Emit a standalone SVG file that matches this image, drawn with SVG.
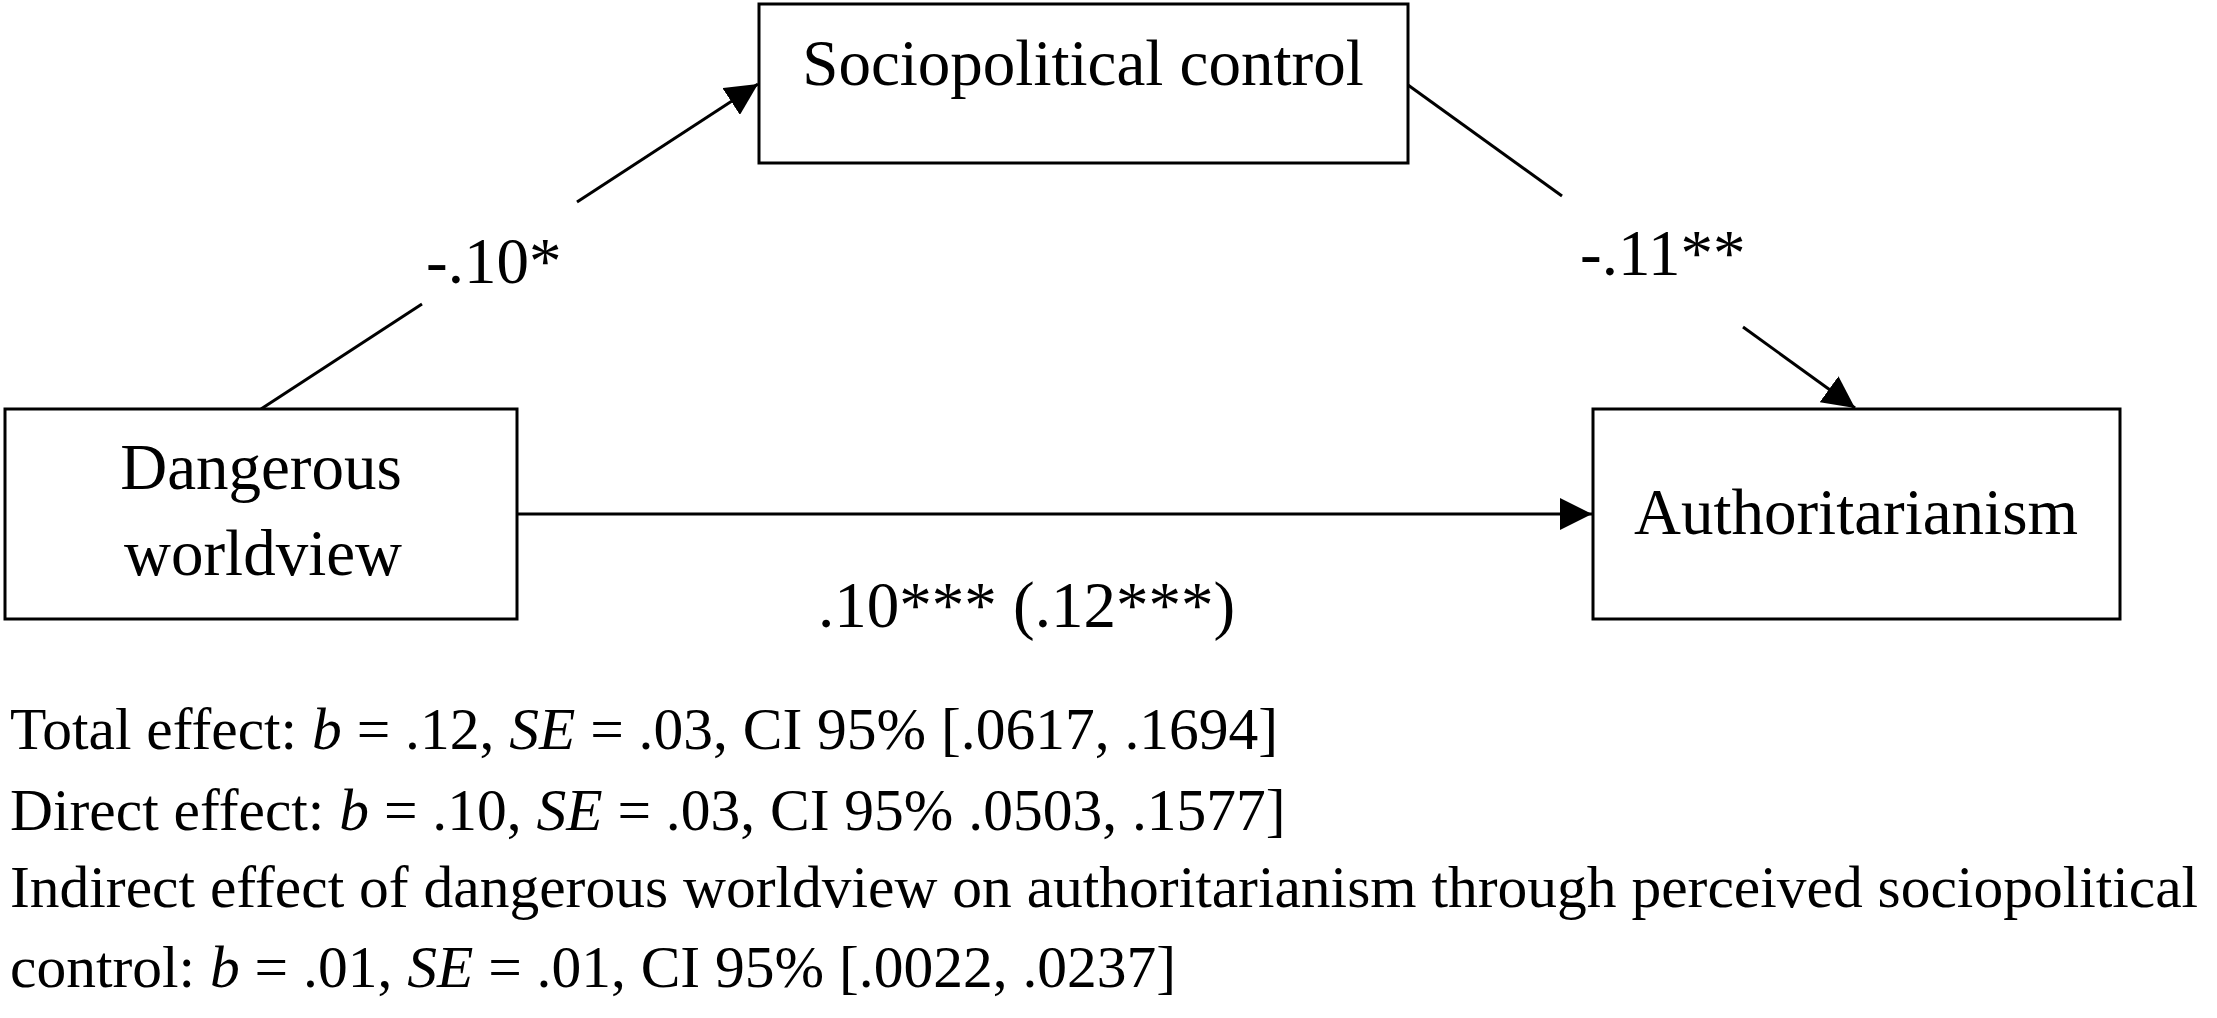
<svg xmlns="http://www.w3.org/2000/svg" width="2217" height="1018" viewBox="0 0 2217 1018">
<style>
  .box { fill: #ffffff; stroke: #000000; stroke-width: 3; }
  .lbl { font-family: "Liberation Serif", "Times New Roman", serif; font-size: 65px; fill: #000000; }
  .cap { font-family: "Liberation Serif", "Times New Roman", serif; font-size: 59.5px; fill: #000000; }
  .it { font-style: italic; }
  .edge { stroke: #000000; stroke-width: 3; fill: none; }
</style>
<defs>
  <marker id="arrow" markerUnits="userSpaceOnUse" markerWidth="32" markerHeight="32" viewBox="0 0 32 32" refX="32" refY="16" orient="auto">
    <path d="M0,0 L32,16 L0,32 Z" fill="#000000"/>
  </marker>
</defs>
<rect width="2217" height="1018" fill="#ffffff"/>
<g id="connectors">
  <line class="edge" x1="261" y1="409" x2="422" y2="304"/>
  <line class="edge" x1="577" y1="202" x2="758" y2="84" marker-end="url(#arrow)"/>
  <line class="edge" x1="1408" y1="85" x2="1562" y2="196"/>
  <line class="edge" x1="1743" y1="327" x2="1855" y2="408" marker-end="url(#arrow)"/>
  <line class="edge" x1="517" y1="514" x2="1592" y2="514" marker-end="url(#arrow)"/>
  <text class="lbl" x="426" y="283">-.10*</text>
  <text class="lbl" x="1580" y="275">-.11**</text>
  <text class="lbl" x="818" y="627">.10*** (.12***)</text>
</g>
<g id="node-sociopolitical">
  <rect class="box" x="759" y="4" width="649" height="159"/>
  <text class="lbl" x="1083" y="85" text-anchor="middle">Sociopolitical control</text>
</g>
<g id="node-dangerous">
  <rect class="box" x="5" y="409" width="512" height="210"/>
  <text class="lbl" x="261" y="489" text-anchor="middle">Dangerous</text>
  <text class="lbl" x="263" y="575" text-anchor="middle">worldview</text>
</g>
<g id="node-authoritarianism">
  <rect class="box" x="1593" y="409" width="527" height="210"/>
  <text class="lbl" x="1856" y="534" text-anchor="middle">Authoritarianism</text>
</g>
<g id="caption">
  <text class="cap" x="10" y="749">Total effect: <tspan class="it">b</tspan> = .12, <tspan class="it">SE</tspan> = .03, CI 95% [.0617, .1694]</text>
  <text class="cap" x="10" y="830">Direct effect: <tspan class="it">b</tspan> = .10, <tspan class="it">SE</tspan> = .03, CI 95% .0503, .1577]</text>
  <text class="cap" x="10" y="907">Indirect effect of dangerous worldview on authoritarianism through perceived sociopolitical</text>
  <text class="cap" x="10" y="987">control: <tspan class="it">b</tspan> = .01, <tspan class="it">SE</tspan> = .01, CI 95% [.0022, .0237]</text>
</g>
</svg>
